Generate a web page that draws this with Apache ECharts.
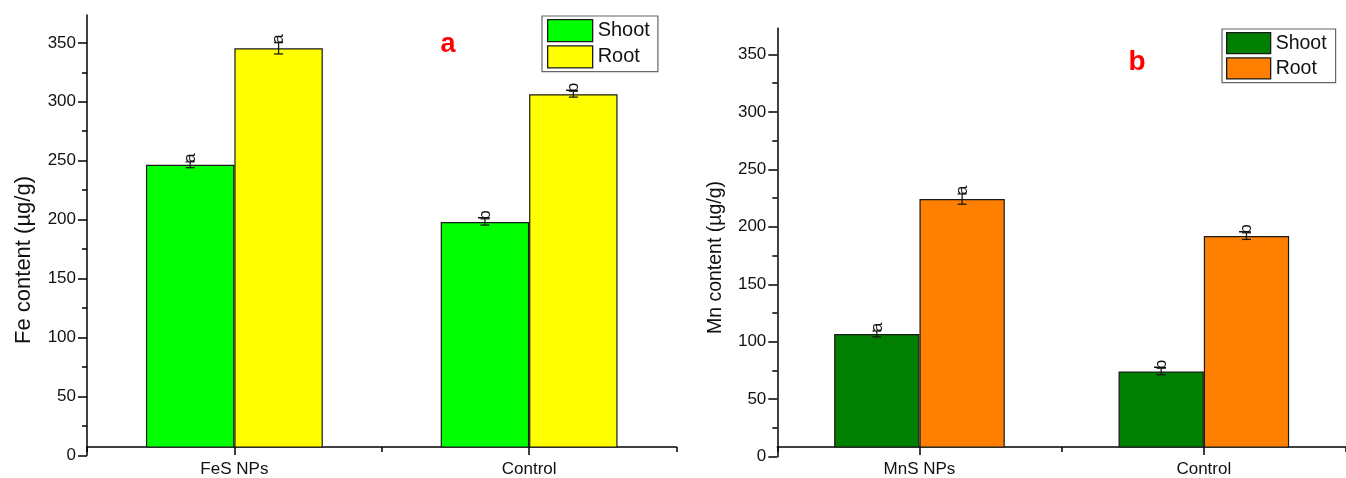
<!DOCTYPE html>
<html>
<head>
<meta charset="utf-8">
<script src="https://cdn.jsdelivr.net/npm/echarts@6/dist/echarts.min.js"></script>
<style>
html,body{margin:0;padding:0;background:#fff;}
#chart{width:1346px;height:478px;}
</style>
</head>
<body>
<div id="chart"></div>
<script>
// ---------- data ----------
const categoriesA = ['FeS NPs', 'Control'];
const shootA = [246.3, 197.7];
const shootErrA = [2.5, 2.7];
const shootLetterA = ['a', 'b'];
const rootA = [345.3, 306.3];
const rootErrA = [4.8, 2.5];
const rootLetterA = ['a', 'b'];

const categoriesB = ['MnS NPs', 'Control'];
const shootB = [105.3, 72.5];
const shootErrB = [2.6, 2.8];
const shootLetterB = ['a', 'b'];
const rootB = [223.3, 190.9];
const rootErrB = [4.5, 2.9];
const rootLetterB = ['a', 'b'];

const yMajorTicks = [0, 50, 100, 150, 200, 250, 300, 350];
const yMinorTicks = [25, 75, 125, 175, 225, 275, 325];
const yMaxA = 373.6;
const yMaxB = 372.7;
const xAxisLevel = 6.4; // value where the x axis line crosses the y axis

const titleA = 'Fe content (\u00b5g/g)';
const titleB = 'Mn content (\u00b5g/g)';
const panelLetterA = 'a';
const panelLetterB = 'b';
const seriesNames = ['Shoot', 'Root'];

// ---------- styles ----------
const FONT = '"Liberation Sans", Arial, sans-serif';
const BAR_FRAC = 0.30;
const colorsA = ['#00ff00', '#ffff00'];
const colorsB = ['#007f00', '#ff8000'];
const EDGE = '#1a1a1a';

const chart = echarts.init(document.getElementById('chart'), null, {renderer: 'canvas'});

function rowsFor(vals, errs, lets, side) {
  return vals.map((v, i) => ({cat: i, value: v, err: errs[i], letter: lets[i], side: side}));
}
const errRowsA = rowsFor(shootA, shootErrA, shootLetterA, -1).concat(rowsFor(rootA, rootErrA, rootLetterA, 1));
const errRowsB = rowsFor(shootB, shootErrB, shootLetterB, -1).concat(rowsFor(rootB, rootErrB, rootLetterB, 1));

function errRenderer(rows) {
  return function (params, api) {
    const r = rows[params.dataIndex];
    const c = api.coord([r.cat, r.value]);
    const band = api.size([1, 0])[0];
    const x = c[0] + r.side * band * BAR_FRAC / 2;
    const top = api.coord([r.cat, r.value + r.err])[1];
    const bot = api.coord([r.cat, r.value - r.err])[1];
    const cap = 4.5;
    const ls = {stroke: '#1a1a1a', lineWidth: 1.3};
    return {
      type: 'group',
      children: [
        {type: 'line', shape: {x1: x, y1: top, x2: x, y2: bot}, style: ls},
        {type: 'line', shape: {x1: x - cap, y1: top, x2: x + cap, y2: top}, style: ls},
        {type: 'line', shape: {x1: x - cap, y1: bot, x2: x + cap, y2: bot}, style: ls},
        {type: 'text', x: x, y: top + 1, rotation: Math.PI / 2,
          style: {text: r.letter, fontSize: 17, fontFamily: FONT, fill: '#111', align: 'left', verticalAlign: 'middle'}}
      ]
    };
  };
}

function barSeries(name, data, color, xi, yi) {
  return {
    type: 'bar', name: name, data: data, xAxisIndex: xi, yAxisIndex: yi,
    barWidth: (BAR_FRAC * 100) + '%', barGap: '0%', clip: true,
    itemStyle: {color: color, borderColor: EDGE, borderWidth: 1.2},
    emphasis: {disabled: true}
  };
}

function catAxes(cats, gridIndex) {
  return [
    {type: 'category', gridIndex: gridIndex, data: cats, position: 'bottom',
      axisLine: {show: true, lineStyle: {color: '#000', width: 1.5}},
      axisTick: {show: true, alignWithLabel: true, length: 8, lineStyle: {color: '#000', width: 1.5}},
      axisLabel: {show: true, fontSize: 17, fontFamily: FONT, color: '#111', margin: 14},
      splitLine: {show: false}},
    {type: 'category', gridIndex: gridIndex, data: cats, position: 'bottom',
      axisLine: {show: false},
      axisTick: {show: true, alignWithLabel: false, length: 5, lineStyle: {color: '#000', width: 1.5}},
      axisLabel: {show: false}, splitLine: {show: false}}
  ];
}

function valueAxes(gridBars, gridLabels, yMax) {
  return [
    {type: 'value', gridIndex: gridBars, min: xAxisLevel, max: yMax, show: false, splitLine: {show: false}},
    {type: 'value', gridIndex: gridLabels, min: 0, max: yMax, interval: 50, position: 'left',
      axisLine: {show: true, lineStyle: {color: '#000', width: 1.5}},
      axisTick: {show: true, length: 9, customValues: yMajorTicks, lineStyle: {color: '#000', width: 1.5}},
      axisLabel: {show: true, customValues: yMajorTicks, fontSize: 17, fontFamily: FONT, color: '#111', margin: 11},
      splitLine: {show: false}},
    {type: 'value', gridIndex: gridLabels, min: 0, max: yMax, interval: 25, position: 'left',
      axisLine: {show: false},
      axisTick: {show: true, length: 5, customValues: yMinorTicks, lineStyle: {color: '#000', width: 1.5}},
      axisLabel: {show: false}, splitLine: {show: false}}
  ];
}

const xAxes = [].concat(
  catAxes(categoriesA, 0),                                   // 0,1
  [{type: 'category', gridIndex: 1, data: categoriesA, show: false}], // 2
  catAxes(categoriesB, 2),                                   // 3,4
  [{type: 'category', gridIndex: 3, data: categoriesB, show: false}]  // 5
);
const yAxes = [].concat(valueAxes(0, 1, yMaxA), valueAxes(2, 3, yMaxB)); // 0,1,2 / 3,4,5

const legendBase = {
  orient: 'vertical', icon: 'rect', itemGap: 3,
  backgroundColor: '#fff', borderColor: '#666', borderWidth: 1.2, borderRadius: 0,
  formatter: n => n.split(' ')[0],
  itemStyle: {borderColor: EDGE, borderWidth: 1.3}
};

const option = {
  animation: false,
  backgroundColor: '#fff',
  grid: [
    {left: 87, top: 15, width: 589.5, height: 432.7},
    {left: 87, top: 15, width: 589.5, height: 440.3},
    {left: 777.3, top: 28.3, width: 575.7, height: 421},
    {left: 777.3, top: 28.3, width: 575.7, height: 428.4}
  ],
  xAxis: xAxes,
  yAxis: yAxes,
  legend: [
    Object.assign({}, legendBase, {
      data: [seriesNames[0] + ' a', seriesNames[1] + ' a'],
      left: 542, top: 16, itemWidth: 45, itemHeight: 22, padding: [3, 8, 3, 5],
      textStyle: {fontSize: 20, fontFamily: FONT, color: '#111'}
    }),
    Object.assign({}, legendBase, {
      data: [seriesNames[0] + ' b', seriesNames[1] + ' b'],
      left: 1222, top: 29, itemWidth: 44, itemHeight: 21, padding: [3, 9, 3, 4],
      textStyle: {fontSize: 19.5, fontFamily: FONT, color: '#111'}
    })
  ],
  series: [
    barSeries(seriesNames[0] + ' a', shootA, colorsA[0], 0, 0),
    barSeries(seriesNames[1] + ' a', rootA, colorsA[1], 0, 0),
    {type: 'custom', name: 'errA', xAxisIndex: 0, yAxisIndex: 0, clip: false, z: 5,
      data: errRowsA.map(r => [r.cat, r.value + r.err]), renderItem: errRenderer(errRowsA)},
    barSeries(seriesNames[0] + ' b', shootB, colorsB[0], 3, 3),
    barSeries(seriesNames[1] + ' b', rootB, colorsB[1], 3, 3),
    {type: 'custom', name: 'errB', xAxisIndex: 3, yAxisIndex: 3, clip: false, z: 5,
      data: errRowsB.map(r => [r.cat, r.value + r.err]), renderItem: errRenderer(errRowsB)}
  ],
  graphic: [
    {type: 'text', x: 24, y: 260, rotation: Math.PI / 2,
      style: {text: titleA, fontSize: 22, fontFamily: FONT, fill: '#111', align: 'center', verticalAlign: 'middle'}},
    {type: 'text', x: 715.5, y: 257.5, rotation: Math.PI / 2,
      style: {text: titleB, fontSize: 19.5, fontFamily: FONT, fill: '#111', align: 'center', verticalAlign: 'middle'}},
    {type: 'text', x: 448, y: 45,
      style: {text: panelLetterA, fontSize: 27, fontWeight: 'bold', fontFamily: FONT, fill: '#ff0000', align: 'center', verticalAlign: 'middle'}},
    {type: 'text', x: 1137, y: 62,
      style: {text: panelLetterB, fontSize: 28, fontWeight: 'bold', fontFamily: FONT, fill: '#ff0000', align: 'center', verticalAlign: 'middle'}}
  ]
};
chart.setOption(option);
</script>
</body>
</html>
